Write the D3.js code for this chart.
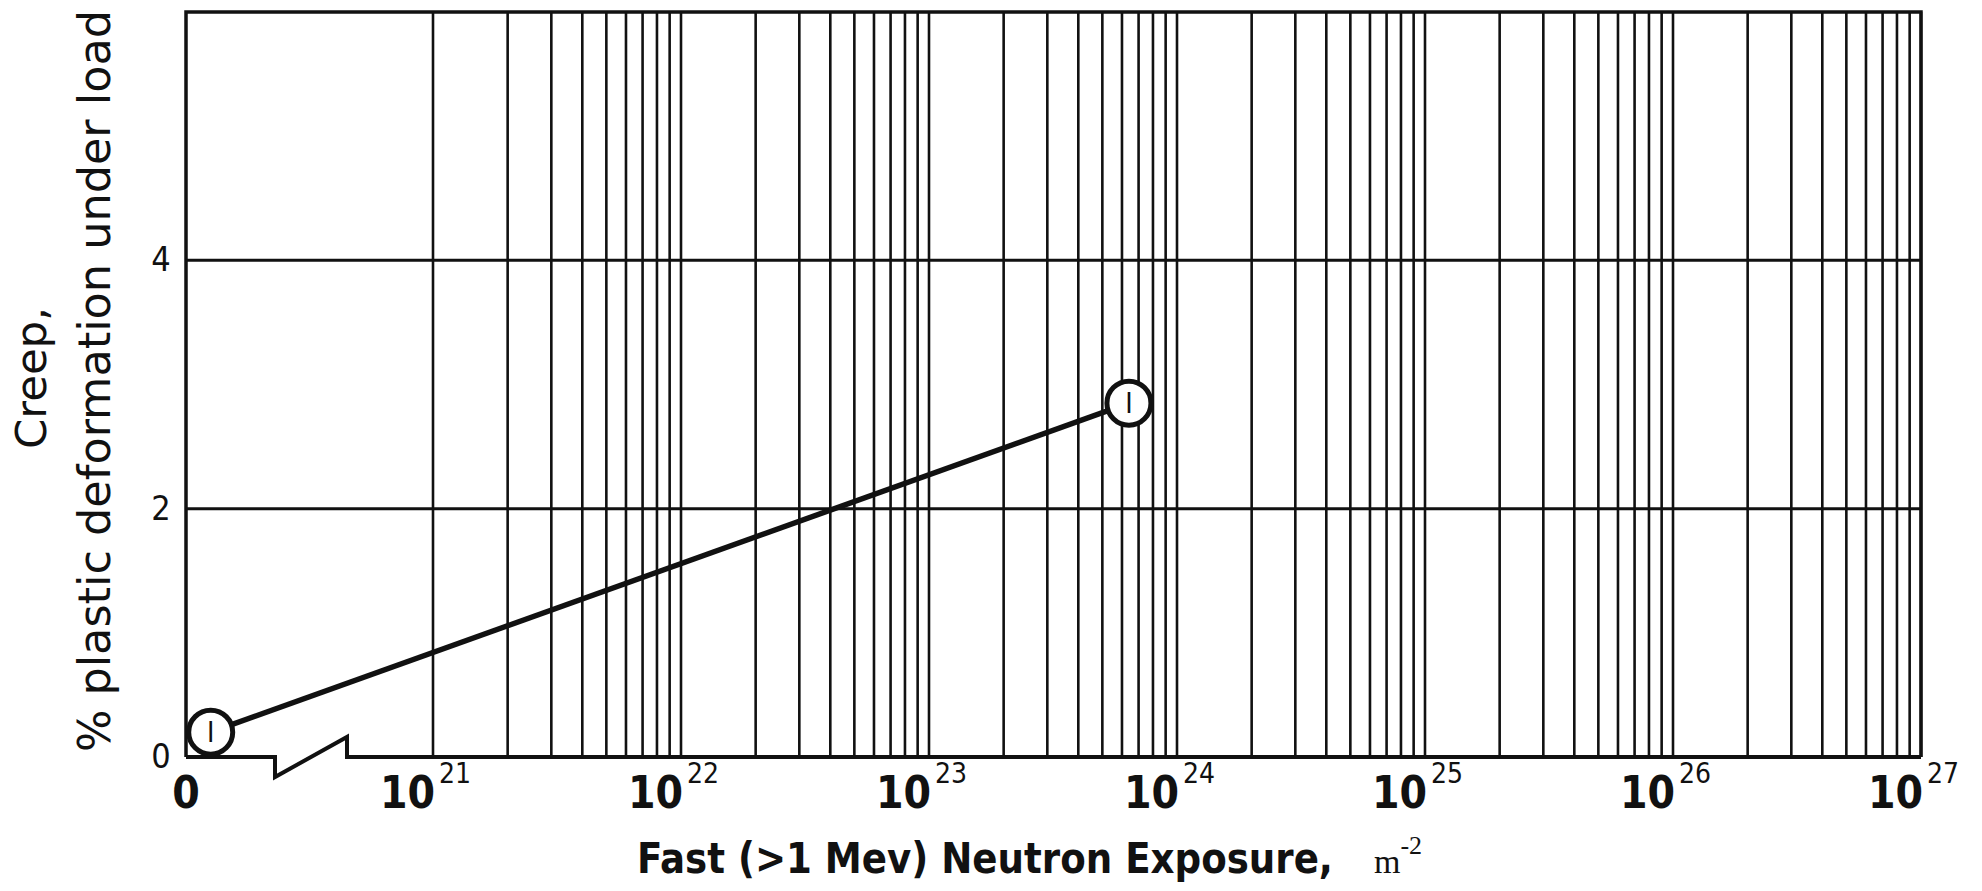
<!DOCTYPE html>
<html>
<head>
<meta charset="utf-8">
<script src="https://cdn.jsdelivr.net/npm/d3@7"></script>
<style>
    body { margin: 0; background: #fff; }
    #chart { width: 1982px; height: 891px; }
    .lbl { font-family: "Liberation Sans Narrow", "DejaVu Sans Condensed", sans-serif; fill: #111; }
</style>
</head>
<body>
<div id="chart"></div>
<script>

// data
var exposure = [1e20, 6.4e23];      // m^-2
var creep = [0.2, 2.85];            // % plastic deformation
var curveLabels = ["I", "I"];

var yTicks = [0, 2, 4];
var yMax = 6;
var xDecades = [21, 22, 23, 24, 25, 26, 27];

var width = 1982;
var height = 891;

var plotLeft = 186, plotRight = 1921, plotTop = 12, plotBottom = 757;
var x21 = 433;

var svg = d3.select("#chart")
    .append("svg")
    .attr("width", width)
    .attr("height", height);

// broken axis: 0..1e21 linear, then log decades
var xLin = d3.scaleLinear()
    .domain([0, 1e21])
    .range([plotLeft, x21]);

var xLog = d3.scaleLog()
    .domain([1e21, 1e27])
    .range([x21, plotRight]);

function x(v) {
    return v < 1e21 ? xLin(v) : xLog(v);
}

var y = d3.scaleLinear()
    .domain([0, yMax])
    .range([plotBottom, plotTop]);

// vertical grid
svg.selectAll("line.vgrid")
    .data(xLog.ticks())
    .enter()
    .append("line")
        .attr("class", "vgrid")
        .attr("x1", function(d) { return xLog(d); })
        .attr("x2", function(d) { return xLog(d); })
        .attr("y1", plotTop)
        .attr("y2", plotBottom)
        .attr("stroke", "#111")
        .attr("stroke-width", 2.6);

// horizontal grid
svg.selectAll("line.hgrid")
    .data(yTicks.filter(function(d) { return d > 0; }))
    .enter()
    .append("line")
        .attr("class", "hgrid")
        .attr("x1", plotLeft)
        .attr("x2", plotRight)
        .attr("y1", function(d) { return y(d); })
        .attr("y2", function(d) { return y(d); })
        .attr("stroke", "#111")
        .attr("stroke-width", 3);

// frame (top, left, right)
svg.append("path")
    .attr("d", "M" + plotLeft + "," + plotBottom + "V" + plotTop + "H" + plotRight + "V" + plotBottom)
    .attr("fill", "none")
    .attr("stroke", "#111")
    .attr("stroke-width", 3.5);

// bottom axis with break symbol
var b1 = 275, b2 = 347;
svg.append("path")
    .attr("d", "M" + plotLeft + "," + plotBottom + "H" + b1 + "V" + (plotBottom + 20) +
        "L" + b2 + "," + (plotBottom - 20) + "V" + plotBottom + "H" + plotRight)
    .attr("fill", "none")
    .attr("stroke", "#111")
    .attr("stroke-width", 4)
    .attr("stroke-linejoin", "miter");

// y tick labels
svg.selectAll("text.ytick")
    .data(yTicks)
    .enter()
    .append("text")
        .attr("class", "lbl ytick")
        .attr("x", 161)
        .attr("y", function(d) { return y(d) + 11; })
        .attr("text-anchor", "middle")
        .attr("font-size", 34)
        .attr("font-weight", 300)
        .text(function(d) { return d; });

// x tick labels
svg.append("text")
    .attr("class", "lbl")
    .attr("x", x(0))
    .attr("y", 808)
    .attr("text-anchor", "middle")
    .attr("font-size", 44)
    .attr("font-weight", "bold")
    .text("0");

var dec = svg.selectAll("g.dec")
    .data(xDecades)
    .enter()
    .append("g")
        .attr("class", "dec");

dec.append("text")
    .attr("class", "lbl")
    .attr("x", function(d) { return xLog(Math.pow(10, d)) + 2; })
    .attr("y", 808)
    .attr("text-anchor", "end")
    .attr("font-size", 44)
    .attr("font-weight", "bold")
    .text("10");

dec.append("text")
    .attr("class", "lbl")
    .attr("x", function(d) { return xLog(Math.pow(10, d)) + 6; })
    .attr("y", 783)
    .attr("font-size", 28)
    .text(function(d) { return d; });

// axis titles
svg.append("text")
    .attr("class", "lbl")
    .attr("x", 637)
    .attr("y", 873)
    .attr("font-size", 43)
    .attr("font-weight", "bold")
    .attr("textLength", 696)
    .attr("lengthAdjust", "spacingAndGlyphs")
    .text("Fast (>1 Mev) Neutron Exposure,");

var unit = svg.append("text")
    .attr("x", 1374)
    .attr("y", 873)
    .attr("font-family", "'Liberation Serif', 'DejaVu Serif', serif")
    .attr("font-size", 34)
    .attr("fill", "#111")
    .text("m");
unit.append("tspan")
    .attr("dy", -19)
    .attr("font-size", 26)
    .text("-2");

svg.append("text")
    .attr("class", "lbl")
    .attr("transform", "translate(46,378) rotate(-90)")
    .attr("text-anchor", "middle")
    .attr("font-size", 42)
    .attr("font-weight", 300)
    .attr("textLength", 142)
    .attr("lengthAdjust", "spacingAndGlyphs")
    .text("Creep,");

svg.append("text")
    .attr("class", "lbl")
    .attr("transform", "translate(110,381) rotate(-90)")
    .attr("text-anchor", "middle")
    .attr("font-size", 44)
    .attr("font-weight", 300)
    .attr("textLength", 742)
    .attr("lengthAdjust", "spacingAndGlyphs")
    .text("% plastic deformation under load");

// data line
var pts = exposure.map(function(d, i) {
    return { ex: d, cr: creep[i], label: curveLabels[i] };
});

var line = d3.line()
    .x(function(d) { return x(d.ex); })
    .y(function(d) { return y(d.cr); });

svg.append("path")
    .datum(pts)
    .attr("d", line)
    .attr("fill", "none")
    .attr("stroke", "#111")
    .attr("stroke-width", 5.5);

var marker = svg.selectAll("g.marker")
    .data(pts)
    .enter()
    .append("g")
        .attr("class", "marker")
        .attr("transform", function(d) { return "translate(" + x(d.ex) + "," + y(d.cr) + ")"; });

marker.append("circle")
    .attr("r", 22)
    .attr("fill", "#fff")
    .attr("stroke", "#111")
    .attr("stroke-width", 5);

marker.append("text")
    .attr("class", "lbl")
    .attr("y", 10)
    .attr("text-anchor", "middle")
    .attr("font-size", 28)
    .text(function(d) { return d.label; });

</script>
</body>
</html>
